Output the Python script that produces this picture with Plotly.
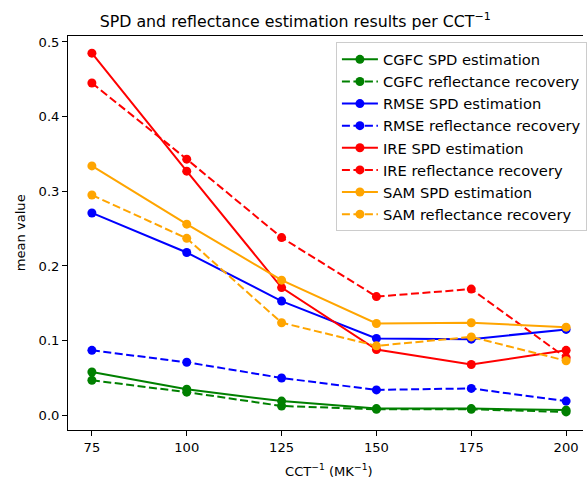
import plotly.graph_objects as go

cct = [75, 100, 125, 150, 175, 200]

cgfc_spd = [0.058, 0.035, 0.019, 0.009, 0.009, 0.007]
cgfc_refl = [0.047, 0.031, 0.0125, 0.008, 0.008, 0.0045]
rmse_spd = [0.271, 0.218, 0.153, 0.103, 0.102, 0.115]
rmse_refl = [0.087, 0.071, 0.050, 0.034, 0.036, 0.019]
ire_spd = [0.485, 0.327, 0.171, 0.088, 0.068, 0.087]
ire_refl = [0.445, 0.343, 0.238, 0.159, 0.169, 0.077]
sam_spd = [0.334, 0.256, 0.181, 0.123, 0.124, 0.118]
sam_refl = [0.295, 0.237, 0.124, 0.093, 0.105, 0.073]

series = [
    ("CGFC SPD estimation", cgfc_spd, "green", "solid"),
    ("CGFC reflectance recovery", cgfc_refl, "green", "dash"),
    ("RMSE SPD estimation", rmse_spd, "blue", "solid"),
    ("RMSE reflectance recovery", rmse_refl, "blue", "dash"),
    ("IRE SPD estimation", ire_spd, "red", "solid"),
    ("IRE reflectance recovery", ire_refl, "red", "dash"),
    ("SAM SPD estimation", sam_spd, "orange", "solid"),
    ("SAM reflectance recovery", sam_refl, "orange", "dash"),
]

W, H = 587, 481
L, R, T, B = 68, 0, 36, 51
pw, ph = W - L - R, H - T - B

fig = go.Figure()
for i, (name, vals, color, dash) in enumerate(series):
    fig.add_trace(go.Scatter(
        x=cct, y=vals, name=name, mode="lines+markers",
        line=dict(color=color, width=2, dash="8px,3.5px" if dash == "dash" else "solid"),
        marker=dict(color=color, size=9),
    ))

font = "DejaVu Sans"
fs = 13.1
fig.update_layout(
    width=W, height=H,
    margin=dict(l=L, r=R, t=T, b=B),
    paper_bgcolor="white", plot_bgcolor="white",
    font=dict(family=font, size=fs, color="black"),
    showlegend=True,
    title=dict(text="SPD and reflectance estimation results per CCT<sup>−1</sup>",
               font=dict(size=15.8, family=font, color="black"),
               xref="paper", x=(297 - L) / pw, xanchor="center",
               yref="container", y=1 - 21 / H, yanchor="middle"),
    legend=dict(x=(338 - L) / pw, y=(430 - 42.3) / ph, xanchor="left", yanchor="top",
                bgcolor="rgba(255,255,255,0.8)", bordercolor="#cccccc", borderwidth=1,
                font=dict(size=14.7, family=font, color="black"),
                itemwidth=36),
    xaxis=dict(range=[68.7, 204.45], tickvals=cct, ticktext=[str(c) for c in cct],
               showgrid=False, zeroline=False, showline=True, mirror=True,
               linecolor="black", linewidth=1, ticks="outside", ticklen=5,
               tickcolor="black", tickfont=dict(size=fs)),
    yaxis=dict(range=[-0.0197, 0.508], tickvals=[0, 0.1, 0.2, 0.3, 0.4, 0.5],
               ticktext=["0.0", "0.1", "0.2", "0.3", "0.4", "0.5"],
               showgrid=False, zeroline=False, showline=True, mirror=False,
               linecolor="black", linewidth=1, ticks="outside", ticklen=5,
               tickcolor="black", tickfont=dict(size=fs)),
)
fig.add_annotation(text="mean value", textangle=-90, xref="paper", yref="paper",
                   x=(20 - L) / pw, y=0.5, xanchor="center", yanchor="middle",
                   showarrow=False, font=dict(size=fs, family=font, color="black"))
fig.add_annotation(text="CCT<sup>−1</sup> (MK<sup>−1</sup>)", xref="paper", yref="paper",
                   x=(331 - L) / pw, y=(430 - 470) / ph, xanchor="center", yanchor="middle",
                   showarrow=False, font=dict(size=fs, family=font, color="black"))

fig.write_html("out.html")
